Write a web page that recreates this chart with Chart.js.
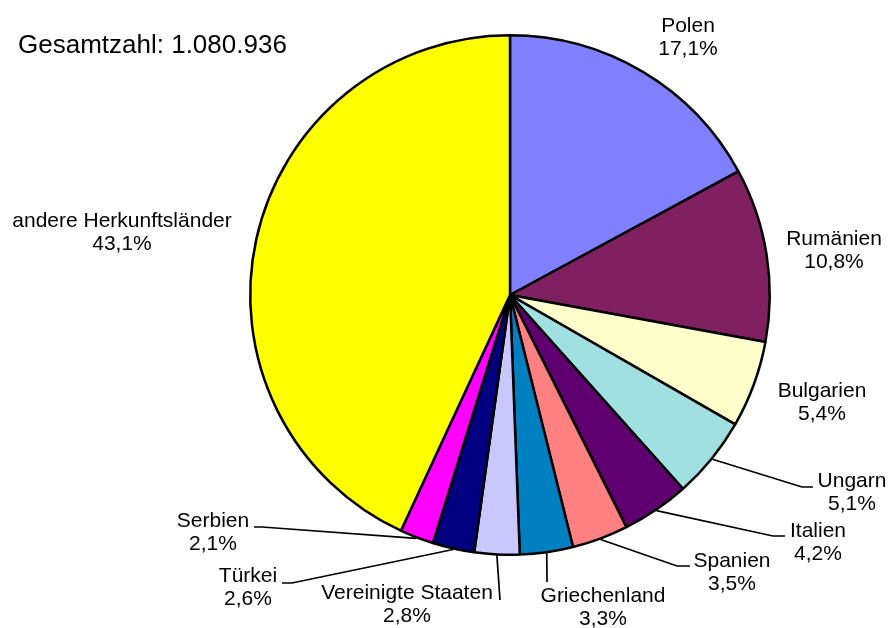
<!DOCTYPE html>
<html>
<head>
<meta charset="utf-8">
<script src="https://cdn.jsdelivr.net/npm/chart.js@4/dist/chart.umd.min.js"></script>
<style>
  html, body { margin: 0; padding: 0; background: #ffffff; }
  #wrap { width: 890px; height: 628px; position: relative; }
</style>
</head>
<body>
<div id="wrap"><canvas id="pie" width="890" height="628"></canvas></div>
<script>
// Herkunftsländer und Anteile (in %)
const countries = ['Polen', 'Rumänien', 'Bulgarien', 'Ungarn', 'Italien', 'Spanien',
  'Griechenland', 'Vereinigte Staaten', 'Türkei', 'Serbien', 'andere Herkunftsländer'];
const shares = [17.1, 10.8, 5.4, 5.1, 4.2, 3.5, 3.3, 2.8, 2.6, 2.1, 43.1];
const totalText = 'Gesamtzahl: 1.080.936';

const sliceColors = ['#8080FF', '#802060', '#FFFFCC', '#A0E0E0', '#600070', '#FF8080',
  '#0080C0', '#C8C8FF', '#000080', '#FF00FF', '#FFFF00'];

// Label placement: text centre x, first baseline y, optional leader line (elbow + end)
const labelLayout = [
  { x: 688, y: 32 },
  { x: 834, y: 245 },
  { x: 822, y: 397 },
  { x: 852, y: 487, elbow: [802, 487], end: [813, 487] },
  { x: 818, y: 537, elbow: [773, 536], end: [785, 536] },
  { x: 732, y: 567, elbow: [677, 566], end: [690, 566] },
  { x: 603, y: 602, elbow: [547, 582], end: [547, 582] },
  { x: 407, y: 599, elbow: [500, 600], end: [500, 600] },
  { x: 248, y: 582, elbow: [292, 583], end: [282, 583] },
  { x: 213, y: 527, elbow: [262, 527], end: [254, 527] },
  { x: 122, y: 227 }
];

const fmt = v => v.toFixed(1).replace('.', ',') + '%';

const labelPlugin = {
  id: 'sliceLabels',
  afterDraw(chart) {
    const ctx = chart.ctx;
    const meta = chart.getDatasetMeta(0);
    ctx.save();
    // leader lines
    ctx.strokeStyle = '#000';
    ctx.lineWidth = 1.7;
    meta.data.forEach((arc, i) => {
      const lay = labelLayout[i];
      if (!lay.elbow) return;
      const p = arc.getProps(['x', 'y', 'startAngle', 'endAngle', 'outerRadius'], true);
      const mid = (p.startAngle + p.endAngle) / 2;
      const r = p.outerRadius + 1;
      ctx.beginPath();
      ctx.moveTo(p.x + Math.cos(mid) * r, p.y + Math.sin(mid) * r);
      ctx.lineTo(lay.elbow[0], lay.elbow[1]);
      ctx.lineTo(lay.end[0], lay.end[1]);
      ctx.stroke();
    });
    // labels
    ctx.fillStyle = '#000';
    ctx.font = '21px "Liberation Sans", Arial, sans-serif';
    ctx.textAlign = 'center';
    ctx.textBaseline = 'alphabetic';
    countries.forEach((name, i) => {
      const lay = labelLayout[i];
      ctx.fillText(name, lay.x, lay.y);
      ctx.fillText(fmt(shares[i]), lay.x, lay.y + 23);
    });
    // total count
    ctx.textAlign = 'left';
    ctx.font = '26px "Liberation Sans", Arial, sans-serif';
    ctx.fillText(totalText, 18, 53);
    ctx.restore();
  }
};

new Chart(document.getElementById('pie'), {
  type: 'pie',
  data: {
    labels: countries,
    datasets: [{
      data: shares,
      backgroundColor: sliceColors,
      borderColor: '#000000',
      borderWidth: 2.5
    }]
  },
  options: {
    responsive: false,
    devicePixelRatio: 1,
    animation: false,
    layout: { padding: { left: 249, right: 119, top: 34, bottom: 72 } },
    plugins: {
      legend: { display: false },
      tooltip: { enabled: false }
    }
  },
  plugins: [labelPlugin]
});
</script>
</body>
</html>
